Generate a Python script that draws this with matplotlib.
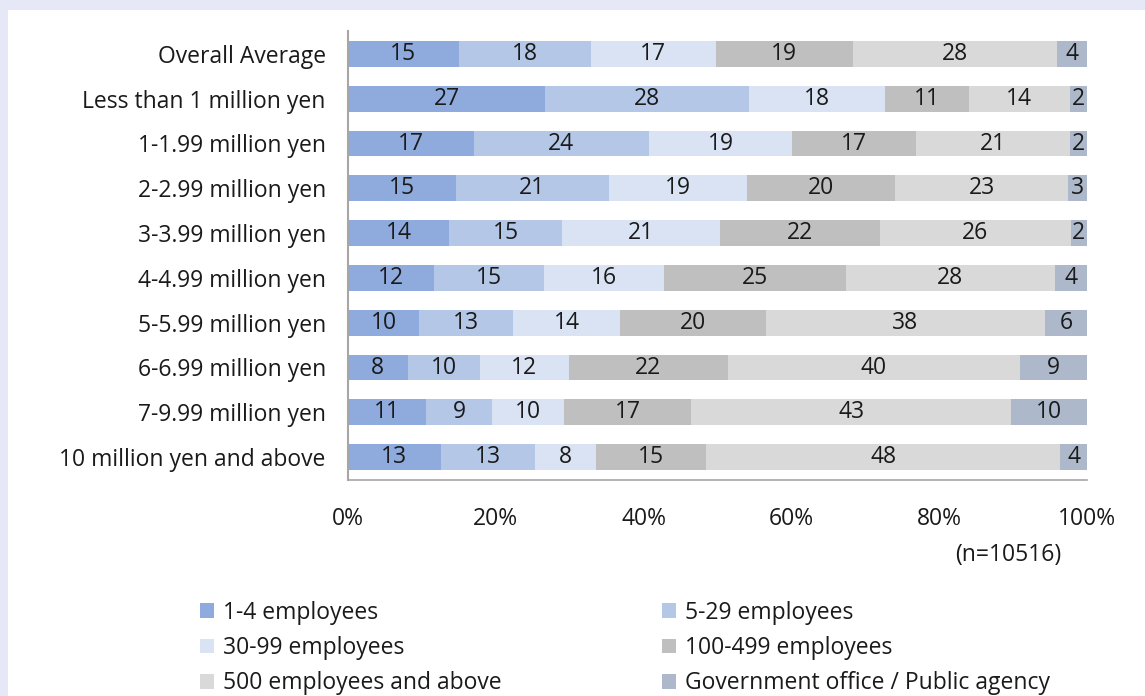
import matplotlib
matplotlib.use('Agg')
import matplotlib.pyplot as plt
import numpy as np
from matplotlib.patches import Rectangle

plt.rcParams['font.family'] = ['Open Sans', 'DejaVu Sans']

categories = ['Overall Average', 'Less than 1 million yen', '1-1.99 million yen',
              '2-2.99 million yen', '3-3.99 million yen', '4-4.99 million yen',
              '5-5.99 million yen', '6-6.99 million yen', '7-9.99 million yen',
              '10 million yen and above']

series = ['1-4 employees', '5-29 employees', '30-99 employees',
          '100-499 employees', '500 employees and above',
          'Government office / Public agency']

emp_1_4 = [15.0, 26.7, 17.0, 14.6, 13.7, 11.7, 9.6, 8.1, 10.6, 12.6]
emp_5_29 = [17.9, 27.6, 23.7, 20.8, 15.2, 14.8, 12.7, 9.8, 8.9, 12.8]
emp_30_99 = [16.9, 18.4, 19.4, 18.7, 21.4, 16.3, 14.4, 12.0, 9.8, 8.2]
emp_100_499 = [18.6, 11.3, 16.8, 20.1, 21.6, 24.6, 19.7, 21.6, 17.2, 15.0]
emp_500 = [27.6, 13.7, 20.8, 23.4, 25.8, 28.4, 37.7, 39.6, 43.3, 48.1]
gov = [4.1, 2.3, 2.3, 2.6, 2.2, 4.3, 5.7, 9.1, 10.3, 3.6]

colors = ['#8FAADC', '#B4C7E7', '#DAE3F3', '#BFBFBF', '#D9D9D9', '#ADB9CA']
xticks = [0, 20, 40, 60, 80, 100]
note = '(n=10516)'

data = np.array([emp_1_4, emp_5_29, emp_30_99, emp_100_499, emp_500, gov])
shares = data / data.sum(axis=0) * 100

W, H = 1145, 696
FS = 16.5
fig = plt.figure(figsize=(W / 100, H / 100), dpi=100)
fig.patch.set_facecolor('#E6E8F8')
fig.patches.append(Rectangle((8 / W, 0), 1, 1 - 10 / H, transform=fig.transFigure,
                             facecolor='white', edgecolor='none', zorder=-5))

ax = fig.add_axes([348 / W, 1 - 479.5 / H, 739 / W, (479.5 - 31.5) / H])
ax.set_facecolor('none')

y = np.arange(len(categories))
left = np.zeros(len(categories))
bars = []
for i, name in enumerate(series):
    b = ax.barh(y, shares[i], left=left, height=0.58, color=colors[i], label=name)
    bars.append(b)
    for j in range(len(categories)):
        ax.text(left[j] + shares[i][j] / 2, y[j], f'{data[i][j]:.0f}',
                ha='center', va='center', fontsize=FS, color='#1a1a1a')
    left += shares[i]

ax.set_xlim(0, 100)
ax.set_ylim(len(categories) - 0.5, -0.5)
ax.set_yticks(y)
ax.set_yticklabels(categories, fontsize=FS, color='#1a1a1a')
ax.set_xticks(xticks)
ax.set_xticklabels([f'{t}%' for t in xticks], fontsize=FS, color='#1a1a1a')
ax.tick_params(axis='y', length=0, pad=16)
ax.tick_params(axis='x', length=0, pad=20)
for s in ['top', 'right']:
    ax.spines[s].set_visible(False)
ax.spines['left'].set_color('#A6A6A6')
ax.spines['bottom'].set_color('#A6A6A6')
ax.spines['left'].set_linewidth(1.5)
ax.spines['bottom'].set_linewidth(1.2)

fig.text(1008 / W, 1 - 555 / H, note, ha='center', va='center', fontsize=FS, color='#1a1a1a')

order = [0, 2, 4, 1, 3, 5]
handles = [bars[k] for k in order]
labels = [series[k] for k in order]
fig.legend(handles, labels, ncol=2, loc='center left', bbox_to_anchor=(189 / W, 1 - 648 / H),
           frameon=False, fontsize=FS, handlelength=0.6, handleheight=0.6,
           handletextpad=0.4, columnspacing=7.0, labelspacing=0.5, borderpad=0,
           labelcolor='#1a1a1a')

fig.savefig('out.png', dpi=100, facecolor=fig.get_facecolor())
